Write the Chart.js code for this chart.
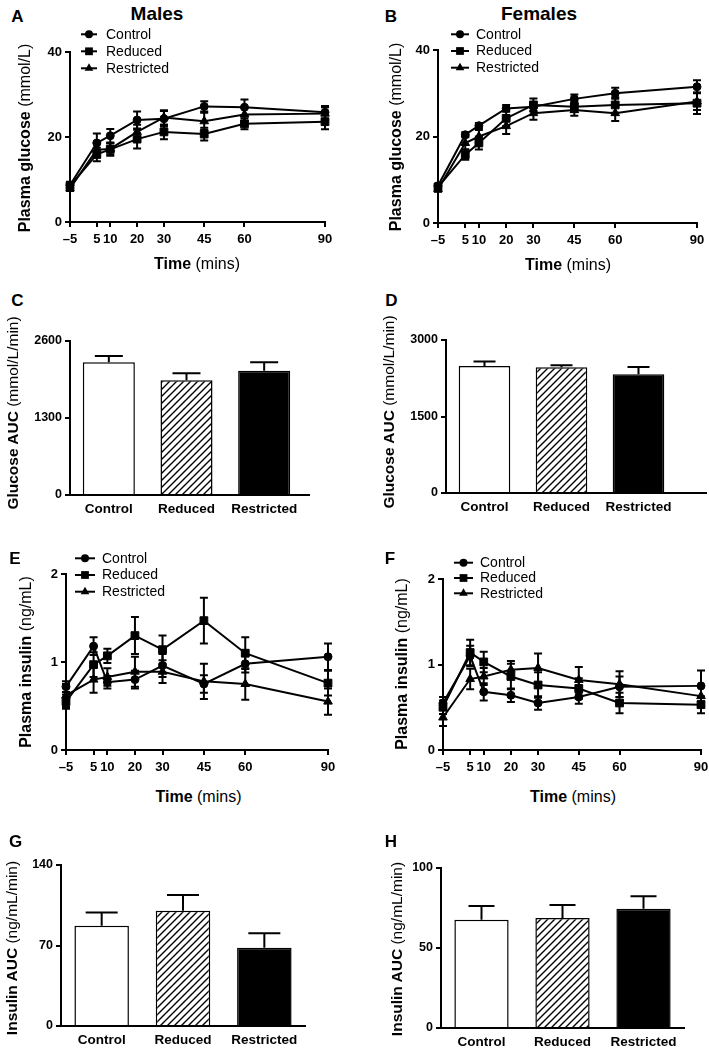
<!DOCTYPE html>
<html><head><meta charset="utf-8">
<script src="https://cdn.jsdelivr.net/npm/chart.js@4.4.1/dist/chart.umd.min.js"></script>
<style>
html,body{margin:0;padding:0;background:#fff}
body{width:709px;height:1049px;position:relative;overflow:hidden;font-family:"Liberation Sans",Arial,Helvetica,sans-serif;color:#000}
canvas{position:absolute}
.t{position:absolute;white-space:nowrap;transform:translate(-50%,-50%);line-height:1}
.r{transform:translate(-50%,-50%) rotate(-90deg)}
.b{font-weight:bold}
.n{font-weight:normal}
.lt{font-size:17px;font-weight:bold}
.ttl{font-size:19px;font-weight:bold}
.yt{font-size:16px}
.yt2{font-size:15.5px}
.xt{font-size:16px}
</style></head><body>
<canvas id="cA"></canvas><canvas id="cB"></canvas><canvas id="cC"></canvas><canvas id="cD"></canvas>
<canvas id="cE"></canvas><canvas id="cF"></canvas><canvas id="cG"></canvas><canvas id="cH"></canvas>

<div class="t lt" style="left:17.5px;top:15.5px">A</div>
<div class="t ttl" style="left:157px;top:13px">Males</div>
<div class="t lt" style="left:391px;top:15.5px">B</div>
<div class="t ttl" style="left:539px;top:13px">Females</div>
<div class="t lt" style="left:17.5px;top:300px">C</div>
<div class="t lt" style="left:391.5px;top:300px">D</div>
<div class="t lt" style="left:15px;top:558px">E</div>
<div class="t lt" style="left:390px;top:558px">F</div>
<div class="t lt" style="left:15.5px;top:841px">G</div>
<div class="t lt" style="left:391px;top:841px">H</div>

<div class="t r yt" style="left:25px;top:137.5px"><span class="b">Plasma glucose</span> <span class="n">(mmol/L)</span></div>
<div class="t r yt" style="left:396px;top:137px"><span class="b">Plasma glucose</span> <span class="n">(mmol/L)</span></div>
<div class="t r yt2" style="left:12.5px;top:413px"><span class="b">Glucose AUC</span> <span class="n">(mmol/L/min)</span></div>
<div class="t r yt2" style="left:389px;top:412px"><span class="b">Glucose AUC</span> <span class="n">(mmol/L/min)</span></div>
<div class="t r yt" style="left:25.5px;top:662px"><span class="b">Plasma insulin</span> <span class="n">(ng/mL)</span></div>
<div class="t r yt" style="left:401.5px;top:664px"><span class="b">Plasma insulin</span> <span class="n">(ng/mL)</span></div>
<div class="t r yt2" style="left:12px;top:948px"><span class="b">Insulin AUC</span> <span class="n">(ng/mL/min)</span></div>
<div class="t r yt2" style="left:397px;top:949px"><span class="b">Insulin AUC</span> <span class="n">(ng/mL/min)</span></div>

<div class="t xt" style="left:197px;top:264px"><span class="b">Time</span> <span class="n">(mins)</span></div>
<div class="t xt" style="left:568px;top:265px"><span class="b">Time</span> <span class="n">(mins)</span></div>
<div class="t xt" style="left:198.5px;top:797px"><span class="b">Time</span> <span class="n">(mins)</span></div>
<div class="t xt" style="left:573px;top:797px"><span class="b">Time</span> <span class="n">(mins)</span></div>

<script>
// ---------------- DATA ----------------
const timePoints = [-5, 5, 10, 20, 30, 45, 60, 90];
const groupNames = ['Control', 'Reduced', 'Restricted'];

const glucoseTicks = [0, 20, 40];
const insulinTicks = [0, 1, 2];
const maleGlucoseAUCTicks = [0, 1300, 2600];
const femaleGlucoseAUCTicks = [0, 1500, 3000];
const maleInsulinAUCTicks = [0, 70, 140];
const femaleInsulinAUCTicks = [0, 50, 100];

// A: Males, plasma glucose (mmol/L)
const maleGlucoseControl      = [8.7, 18.6, 20.3, 24.0, 24.3, 27.2, 27.0, 25.8];
const maleGlucoseControlSE    = [0.8, 2.2, 1.6, 2.0, 1.8, 1.2, 1.8, 1.5];
const maleGlucoseReduced      = [8.5, 15.9, 17.1, 19.5, 21.2, 20.7, 23.1, 23.6];
const maleGlucoseReducedSE    = [0.8, 1.6, 1.5, 2.2, 1.7, 1.5, 1.3, 1.8];
const maleGlucoseRestricted   = [7.9, 17.0, 17.2, 21.2, 24.6, 23.7, 25.3, 25.5];
const maleGlucoseRestrictedSE = [0.6, 1.6, 1.3, 1.7, 1.7, 2.0, 1.5, 1.5];

// B: Females, plasma glucose (mmol/L)
const femaleGlucoseControl      = [8.6, 20.4, 22.5, 26.5, 26.9, 28.7, 30.0, 31.5];
const femaleGlucoseControlSE    = [0.5, 0.6, 0.6, 0.8, 1.0, 1.0, 1.3, 1.5];
const femaleGlucoseReduced      = [8.3, 15.8, 18.5, 24.2, 27.3, 26.9, 27.3, 27.7];
const femaleGlucoseReducedSE    = [0.7, 1.2, 1.5, 1.8, 1.5, 1.2, 1.8, 2.5];
const femaleGlucoseRestricted   = [7.8, 18.5, 20.0, 22.4, 25.4, 26.1, 25.4, 28.1];
const femaleGlucoseRestrictedSE = [0.6, 1.5, 1.5, 1.8, 1.5, 1.3, 1.8, 2.0];

// E: Males, plasma insulin (ng/mL)
const maleInsulinControl      = [0.72, 1.18, 0.77, 0.80, 0.96, 0.75, 0.98, 1.06];
const maleInsulinControlSE    = [0.06, 0.10, 0.07, 0.10, 0.13, 0.10, 0.10, 0.15];
const maleInsulinReduced      = [0.55, 0.97, 1.07, 1.30, 1.14, 1.47, 1.10, 0.76];
const maleInsulinReducedSE    = [0.08, 0.14, 0.08, 0.21, 0.16, 0.26, 0.18, 0.14];
const maleInsulinRestricted   = [0.62, 0.80, 0.83, 0.89, 0.89, 0.78, 0.75, 0.55];
const maleInsulinRestrictedSE = [0.13, 0.15, 0.10, 0.17, 0.13, 0.20, 0.18, 0.15];

// F: Females, plasma insulin (ng/mL)
const femaleInsulinControl      = [0.55, 1.10, 0.68, 0.64, 0.55, 0.62, 0.74, 0.75];
const femaleInsulinControlSE    = [0.07, 0.12, 0.10, 0.08, 0.08, 0.08, 0.12, 0.18];
const femaleInsulinReduced      = [0.50, 1.14, 1.03, 0.86, 0.76, 0.72, 0.55, 0.53];
const femaleInsulinReducedSE    = [0.08, 0.15, 0.12, 0.15, 0.15, 0.12, 0.12, 0.10];
const femaleInsulinRestricted   = [0.38, 0.83, 0.86, 0.94, 0.96, 0.82, 0.77, 0.63];
const femaleInsulinRestrictedSE = [0.10, 0.12, 0.10, 0.10, 0.17, 0.15, 0.15, 0.12];

// C, D, G, H: AUC bars (Control, Reduced, Restricted)
const maleGlucoseAUC     = [2240, 1936, 2099];
const maleGlucoseAUCSE   = [107, 118, 141];
const femaleGlucoseAUC   = [2491, 2465, 2328];
const femaleGlucoseAUCSE = [85, 40, 144];
const maleInsulinAUC     = [87.2, 100.3, 68.1];
const maleInsulinAUCSE   = [11.4, 13.6, 12.5];
const femaleInsulinAUC   = [67.7, 68.8, 74.6];
const femaleInsulinAUCSE = [8.5, 8.1, 7.7];

// ---------------- RENDERING ----------------
const FONT = "'Liberation Sans', Arial, Helvetica, sans-serif";
const markerStyles = ['circle', 'rect', 'triangle'];
const markerRadius = [4, 5.5, 5];

function drawMarker(ctx, style, x, y, r) {
  ctx.beginPath();
  if (style === 'circle') { ctx.arc(x, y, r, 0, Math.PI * 2); }
  else if (style === 'rect') { const s = r * Math.SQRT1_2; ctx.rect(x - s, y - s, 2 * s, 2 * s); }
  else {
    const a = 2 * Math.PI / 3;
    ctx.moveTo(x, y - r);
    ctx.lineTo(x + r * Math.sin(a), y - r * Math.cos(a));
    ctx.lineTo(x + r * Math.sin(2 * a), y - r * Math.cos(2 * a));
    ctx.closePath();
  }
  ctx.fillStyle = '#000';
  ctx.fill();
}

const errPlugin = {
  id: 'errbars',
  afterDatasetsDraw(chart, args, opts) {
    const ctx = chart.ctx, ys = chart.scales.y;
    const cap = opts.cap || 4;
    chart.data.datasets.forEach((ds, i) => {
      if (!ds.errors) return;
      const meta = chart.getDatasetMeta(i);
      meta.data.forEach((el, j) => {
        const raw = ds.data[j];
        const v = (typeof raw === 'object') ? raw.y : raw;
        const e = ds.errors[j];
        const x = el.x;
        const yTop = ys.getPixelForValue(v + e);
        const yBot = ds.upOnly ? ys.getPixelForValue(v) : ys.getPixelForValue(v - e);
        ctx.save();
        ctx.strokeStyle = '#000';
        ctx.lineWidth = 2;
        ctx.beginPath();
        ctx.moveTo(x, yTop); ctx.lineTo(x, yBot);
        ctx.moveTo(x - cap, yTop); ctx.lineTo(x + cap, yTop);
        if (!ds.upOnly) { ctx.moveTo(x - cap, yBot); ctx.lineTo(x + cap, yBot); }
        ctx.stroke();
        ctx.restore();
      });
    });
  }
};

const legendPlugin = {
  id: 'miniLegend',
  afterDraw(chart, args, opts) {
    if (!opts || opts.x0 == null) return;
    const ctx = chart.ctx;
    chart.data.datasets.forEach((ds, i) => {
      const y = opts.y + i * opts.gap - opts.oy;
      const x0 = opts.x0 - opts.ox, x1 = opts.x1 - opts.ox;
      ctx.save();
      ctx.strokeStyle = '#000'; ctx.lineWidth = 2;
      ctx.beginPath(); ctx.moveTo(x0, y); ctx.lineTo(x1, y); ctx.stroke();
      drawMarker(ctx, ds.pointStyle, (x0 + x1) / 2, y, ds.pointRadius);
      ctx.fillStyle = '#000';
      ctx.font = '14px ' + FONT;
      ctx.textBaseline = 'middle';
      ctx.textAlign = 'left';
      ctx.fillText(ds.label, opts.tx - opts.ox, y + 0.5);
      ctx.restore();
    });
  }
};

const axisExtPlugin = {
  id: 'axisExt',
  afterDraw(chart, args, opts) {
    if (!opts || opts.to == null) return;
    const ctx = chart.ctx, xs = chart.scales.x, a = chart.chartArea;
    ctx.save();
    ctx.strokeStyle = '#000'; ctx.lineWidth = 2;
    ctx.beginPath();
    ctx.moveTo(a.right - 1, xs.top); ctx.lineTo(opts.to - opts.ox, xs.top);
    ctx.stroke();
    ctx.restore();
  }
};

function place(cv, box) {
  cv.width = box.w; cv.height = box.h;
  cv.style.left = box.l + 'px'; cv.style.top = box.t + 'px';
  cv.style.width = box.w + 'px'; cv.style.height = box.h + 'px';
}

function axisBase() {
  return {
    grid: { display: true, drawOnChartArea: false, drawTicks: true, tickLength: 5, color: '#000', lineWidth: 2 },
    border: { display: true, color: '#000', width: 2 }
  };
}

function yAxis(box, area, ticks, fontSize) {
  return Object.assign(axisBase(), {
    min: ticks[0], max: ticks[ticks.length - 1],
    afterBuildTicks: sc => { sc.ticks = ticks.map(v => ({ value: v })); },
    afterFit: sc => { sc.width = area.l - box.l; sc.paddingTop = 0; sc.paddingBottom = 0; },
    ticks: {
      color: '#000', font: { family: FONT, size: fontSize, weight: 'bold' }, padding: 3, autoSkip: false,
      callback: v => String(v)
    }
  });
}

function lineChart(id, box, area, series, yTicks, legend) {
  const cv = document.getElementById(id);
  place(cv, box);
  return new Chart(cv, {
    type: 'line',
    data: {
      datasets: series.map((s, k) => ({
        label: groupNames[k],
        data: timePoints.map((t, i) => ({ x: t, y: s.values[i] })),
        errors: s.se,
        borderColor: '#000', backgroundColor: '#000',
        borderWidth: 2, pointStyle: markerStyles[k],
        pointRadius: markerRadius[k], pointHoverRadius: markerRadius[k],
        pointBorderWidth: 1, pointBorderColor: '#000', pointBackgroundColor: '#000',
        tension: 0, clip: false, fill: false
      }))
    },
    options: {
      responsive: false, animation: false, events: [],
      layout: { padding: { top: area.t - box.t, right: box.l + box.w - area.r, left: 0, bottom: 0 } },
      plugins: {
        legend: { display: false }, tooltip: { enabled: false },
        errbars: { cap: 4 },
        miniLegend: Object.assign({ ox: box.l, oy: box.t }, legend),
        axisExt: {}
      },
      scales: {
        x: Object.assign(axisBase(), {
          type: 'linear', min: timePoints[0], max: timePoints[timePoints.length - 1],
          afterBuildTicks: sc => { sc.ticks = timePoints.map(v => ({ value: v })); },
          afterFit: sc => { sc.height = box.t + box.h - area.b; sc.paddingLeft = 0; sc.paddingRight = 0; },
          ticks: {
            color: '#000', font: { family: FONT, size: 13, weight: 'bold' }, padding: 5,
            maxRotation: 0, minRotation: 0, autoSkip: false,
            callback: v => (v < 0 ? '\u2013' + Math.abs(v) : String(v))
          }
        }),
        y: yAxis(box, area, yTicks, 13)
      }
    },
    plugins: [errPlugin, legendPlugin, axisExtPlugin]
  });
}

function makeHatch(ctxForPattern) {
  const c = document.createElement('canvas'); const s = 7; c.width = s; c.height = s;
  const g = c.getContext('2d'); g.fillStyle = '#fff'; g.fillRect(0, 0, s, s);
  g.strokeStyle = '#000'; g.lineWidth = 1.4; g.beginPath();
  g.moveTo(-1, s + 1); g.lineTo(s + 1, -1);
  g.moveTo(-1, 1); g.lineTo(1, -1);
  g.moveTo(s - 1, s + 1); g.lineTo(s + 1, s - 1);
  g.stroke();
  return ctxForPattern.createPattern(c, 'repeat');
}

function barChart(id, box, area, values, se, yTicks, cap, extTo) {
  const cv = document.getElementById(id);
  place(cv, box);
  const hatch = makeHatch(cv.getContext('2d'));
  return new Chart(cv, {
    type: 'bar',
    data: {
      labels: groupNames,
      datasets: [{
        data: values, errors: se, upOnly: true,
        backgroundColor: ['#fff', hatch, '#000'],
        borderColor: '#000', borderWidth: 1.5, borderSkipped: 'start',
        barPercentage: 0.67, categoryPercentage: 1
      }]
    },
    options: {
      responsive: false, animation: false, events: [],
      layout: { padding: { top: area.t - box.t, right: box.l + box.w - area.r, left: 0, bottom: 0 } },
      plugins: {
        legend: { display: false }, tooltip: { enabled: false },
        errbars: { cap: cap },
        axisExt: { to: extTo, ox: box.l }
      },
      scales: {
        x: {
          type: 'category',
          grid: { display: false, drawTicks: false },
          border: { display: true, color: '#000', width: 2 },
          afterFit: sc => { sc.height = box.t + box.h - area.b; sc.paddingLeft = 0; sc.paddingRight = 0; },
          ticks: { color: '#000', font: { family: FONT, size: 13.5, weight: 'bold' }, padding: 6, maxRotation: 0, autoSkip: false }
        },
        y: yAxis(box, area, yTicks, 12.5)
      }
    },
    plugins: [errPlugin, axisExtPlugin]
  });
}

// Panel A
lineChart('cA', { l: 14, t: 26, w: 340, h: 232 }, { l: 70, t: 52, r: 325, b: 222 }, [
  { values: maleGlucoseControl, se: maleGlucoseControlSE },
  { values: maleGlucoseReduced, se: maleGlucoseReducedSE },
  { values: maleGlucoseRestricted, se: maleGlucoseRestrictedSE }
], glucoseTicks, { x0: 81, x1: 97, tx: 106, y: 34.3, gap: 17 });

// Panel B
lineChart('cB', { l: 400, t: 26, w: 309, h: 232 }, { l: 438, t: 50, r: 697, b: 223 }, [
  { values: femaleGlucoseControl, se: femaleGlucoseControlSE },
  { values: femaleGlucoseReduced, se: femaleGlucoseReducedSE },
  { values: femaleGlucoseRestricted, se: femaleGlucoseRestrictedSE }
], glucoseTicks, { x0: 451, x1: 469, tx: 476, y: 34.3, gap: 16.7 });

// Panel C
barChart('cC', { l: 14, t: 320, w: 330, h: 205 }, { l: 70, t: 341, r: 303, b: 495 },
  maleGlucoseAUC, maleGlucoseAUCSE, maleGlucoseAUCTicks, 14, 310);

// Panel D
barChart('cD', { l: 400, t: 320, w: 309, h: 205 }, { l: 446, t: 340, r: 677, b: 493 },
  femaleGlucoseAUC, femaleGlucoseAUCSE, femaleGlucoseAUCTicks, 11, 707);

// Panel E
lineChart('cE', { l: 14, t: 545, w: 340, h: 235 }, { l: 66, t: 574, r: 328, b: 750 }, [
  { values: maleInsulinControl, se: maleInsulinControlSE },
  { values: maleInsulinReduced, se: maleInsulinReducedSE },
  { values: maleInsulinRestricted, se: maleInsulinRestrictedSE }
], insulinTicks, { x0: 75, x1: 95, tx: 102, y: 558.3, gap: 16.7 });

// Panel F
lineChart('cF', { l: 400, t: 545, w: 309, h: 235 }, { l: 443, t: 579, r: 701, b: 750 }, [
  { values: femaleInsulinControl, se: femaleInsulinControlSE },
  { values: femaleInsulinReduced, se: femaleInsulinReducedSE },
  { values: femaleInsulinRestricted, se: femaleInsulinRestrictedSE }
], insulinTicks, { x0: 454, x1: 473, tx: 480, y: 562.7, gap: 15.3 });

// Panel G
barChart('cG', { l: 14, t: 850, w: 330, h: 199 }, { l: 61, t: 865, r: 305, b: 1026 },
  maleInsulinAUC, maleInsulinAUCSE, maleInsulinAUCTicks, 16, null);

// Panel H
barChart('cH', { l: 400, t: 850, w: 309, h: 199 }, { l: 441, t: 868, r: 684, b: 1028 },
  femaleInsulinAUC, femaleInsulinAUCSE, femaleInsulinAUCTicks, 13, null);
</script>
</body></html>
